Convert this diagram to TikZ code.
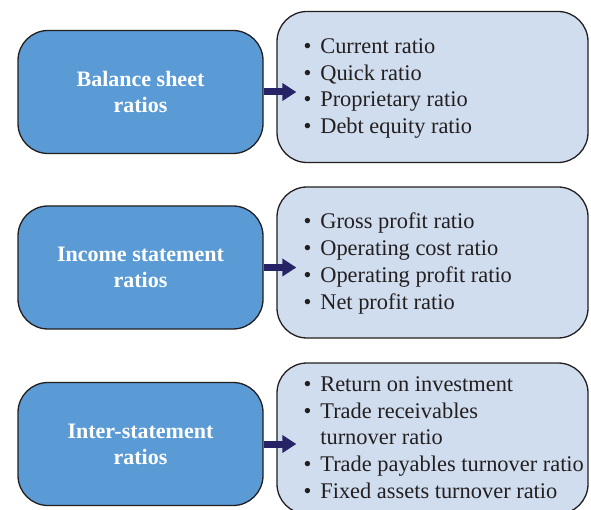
\documentclass[tikz,border=0pt]{standalone}
\usepackage{fontspec}
\setmainfont{Liberation Serif}
\usetikzlibrary{calc,arrows.meta}
\definecolor{catblue}{HTML}{5B9BD5}
\definecolor{itemfill}{HTML}{D0DDEE}
\definecolor{edgecol}{HTML}{231F20}
\definecolor{navy}{HTML}{262466}
\newcommand{\bul}{\textbullet\hspace{0.4em}}
\newcommand{\bulgap}{\hphantom{\textbullet\hspace{0.4em}}}
\begin{document}
\begin{tikzpicture}[x=1pt,y=-1pt,
  catbox/.style={draw=edgecol, line width=1.3pt, fill=catblue, rounded corners=30pt,
    minimum width=245pt, minimum height=123pt, text=white,
    font=\fontsize{22}{26}\selectfont\bfseries, align=center, inner sep=0pt},
  listbox/.style={draw=edgecol, line width=1.3pt, fill=itemfill, rounded corners=30pt,
    minimum width=311pt, minimum height=151pt, inner sep=0pt},
  listtext/.style={anchor=west, align=left, inner sep=0pt,
    font=\fontsize{22.4}{26.8}\selectfont, text=edgecol},
  linkarrow/.style={draw=navy, line width=7pt, -{Triangle[length=14pt,width=17pt]}}
]
\useasboundingbox (0,0) rectangle (591,510);
\clip (0,0) rectangle (591,510);
\fill[white] (0,0) rectangle (591,510);

\node[listbox] (R1) at (432.5,87) {};
\node[listbox] (R2) at (432.5,262.5) {};
\node[listbox] (R3) at (432.5,438.5) {};

\node[catbox] (C1) at (140.5,92) {Balance sheet\\ratios};
\node[catbox] (C2) at (140.5,267.5) {Income statement\\ratios};
\node[catbox] (C3) at (140.5,444) {Inter-statement\\ratios};

\draw[linkarrow] (C1.east) -- ($(C1.east -| R1.west)+(20,0)$);
\draw[linkarrow] (C2.east) -- ($(C2.east -| R2.west)+(20,0)$);
\draw[linkarrow] (C3.east) -- ($(C3.east -| R3.west)+(20,0)$);

\node[listtext] (T1) at ($(R1.west)+(27,1.5)$) {\bul Current ratio\\\bul Quick ratio\\\bul Proprietary ratio\\\bul Debt equity ratio};
\node[listtext] (T2) at ($(R2.west)+(27,1)$) {\bul Gross profit ratio\\\bul Operating cost ratio\\\bul Operating profit ratio\\\bul Net profit ratio};
\node[listtext] (T3) at ($(R3.west)+(27,-1)$) {\bul Return on investment\\\bul Trade receivables\\\bulgap turnover ratio\\\bul Trade payables turnover ratio\\\bul Fixed assets turnover ratio};
\end{tikzpicture}
\end{document}
